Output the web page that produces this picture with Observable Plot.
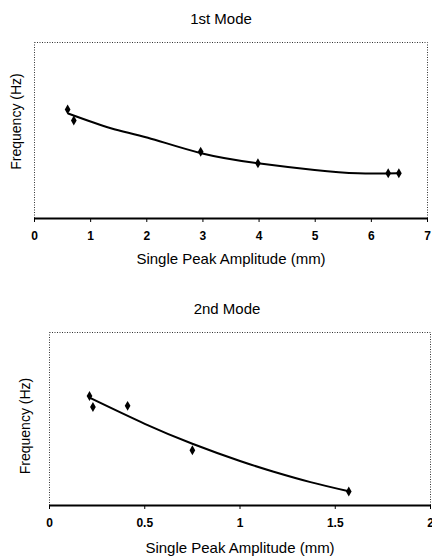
<!DOCTYPE html>
<html>
<head>
<meta charset="utf-8">
<script src="https://cdn.jsdelivr.net/npm/d3@7"></script>
<script src="https://cdn.jsdelivr.net/npm/@observablehq/plot@0.6"></script>
<style>
  html, body { margin: 0; padding: 0; background: #fff; }
  body { width: 432px; height: 559px; position: relative; overflow: hidden; font-family: "Liberation Sans", Arial, sans-serif; }
  .panel { position: absolute; left: 0; width: 432px; }
  .title { position: absolute; z-index: 5; font-size: 15px; color: #000; transform: translate(-50%, -50%); white-space: nowrap; }
  g[aria-label="x-axis tick label"] text { font-weight: bold; }
  g[aria-label="x-axis label"] text { font-size: 15px; }
</style>
</head>
<body>
<div id="top" class="panel" style="top:0px;"></div>
<div id="bottom" class="panel" style="top:280px;"></div>
<div class="title" style="left:221px; top:18px;">1st Mode</div>
<div class="title" style="left:227px; top:308px;">2nd Mode</div>
<script>
// 1st mode: measured points (amplitude mm, relative frequency, y axis unlabeled)
const mode1Amp = [0.59, 0.70, 2.96, 3.98, 6.30, 6.49];
const mode1Freq = [61.9, 55.7, 37.9, 31.4, 25.7, 25.7];
// 1st mode trendline
const trend1Amp = [0.61, 1.36, 2.02, 2.97, 3.98, 4.99, 5.76, 6.47];
const trend1Freq = [59.5, 51.3, 45.9, 37.1, 31.4, 27.6, 25.7, 25.7];
const xTicks1 = [0, 1, 2, 3, 4, 5, 6, 7];

// 2nd mode
const mode2Amp = [0.21, 0.228, 0.41, 0.75, 1.571];
const mode2Freq = [63.3, 56.9, 57.6, 31.9, 8.1];
const trend2Amp = [0.21, 0.5, 0.75, 1.0, 1.177, 1.37, 1.571];
const trend2Freq = [62.3, 47.2, 35.7, 25.7, 19.5, 13.5, 8.2];
const xTicks2 = [0, 0.5, 1, 1.5, 2];

const xLabel = "Single Peak Amplitude (mm)";
const yLabel = "Frequency (Hz)";

function makeChart(o) {
  const pts = o.amp.map((a, i) => ({a, f: o.freq[i]}));
  const trend = o.tAmp.map((a, i) => ({a, f: o.tFreq[i]}));
  return Plot.plot({
    width: 432,
    height: o.height,
    marginTop: o.mt, marginBottom: o.mb, marginLeft: o.ml, marginRight: o.mr,
    style: {fontFamily: "'Liberation Sans', Arial, sans-serif", fontSize: "12px", color: "#000", background: "#fff", overflow: "visible"},
    x: {domain: o.xDomain},
    y: {domain: [0, 100], axis: null},
    marks: [
      Plot.frame({stroke: "#333", strokeWidth: 1, strokeDasharray: "1,1.5"}),
      Plot.ruleY([0], {stroke: "#000", strokeWidth: 2}),
      Plot.axisX({ticks: o.xTicks, tickFormat: o.fmt, tickSize: 4, tickPadding: 9, fontSize: 12,
        label: xLabel, labelArrow: "none", labelAnchor: "center", labelOffset: o.xlo, stroke: "#000"}),
      Plot.text([yLabel], {text: d => d, frameAnchor: "left", textAnchor: "middle", lineAnchor: "middle",
        rotate: -90, dx: o.ydx, dy: o.ydy, fontSize: 14, fill: "#000", ariaLabel: "y-axis label"}),
      Plot.line(trend, {x: "a", y: "f", curve: "natural", stroke: "#000", strokeWidth: 2}),
      Plot.dot(pts, {x: "a", y: "f", symbol: "diamond", r: 3, fill: "#000", stroke: "none"})
    ]
  });
}

document.getElementById("top").append(makeChart({
  amp: mode1Amp, freq: mode1Freq, tAmp: trend1Amp, tFreq: trend1Freq,
  height: 280, mt: 42, mb: 62, ml: 34, mr: 5,
  xDomain: [0, 7], xTicks: xTicks1, fmt: d3.format("d"), xlo: 45, ydx: -18, ydy: -9
}));
document.getElementById("bottom").append(makeChart({
  amp: mode2Amp, freq: mode2Freq, tAmp: trend2Amp, tFreq: trend2Freq,
  height: 279, mt: 52, mb: 54, ml: 49, mr: 2,
  xDomain: [0, 2], xTicks: xTicks2, fmt: d => String(d), xlo: 47, ydx: -24, ydy: 7
}));
</script>
</body>
</html>
